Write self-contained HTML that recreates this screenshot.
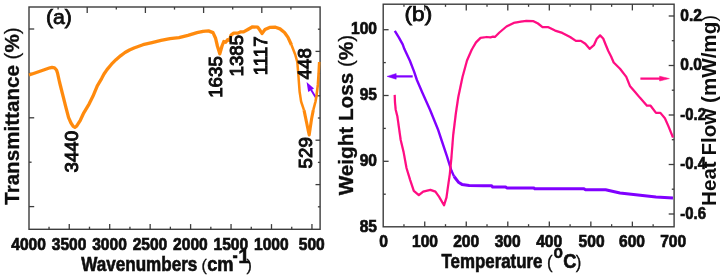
<!DOCTYPE html>
<html><head><meta charset="utf-8"><title>chart</title>
<style>
html,body{margin:0;padding:0;background:#fff;}
svg{display:block;font-family:"Liberation Sans", sans-serif;fill:#0a0a0a;}
.p{font-weight:normal;stroke-width:0.25;}
</style></head>
<body>
<svg width="723" height="279" viewBox="0 0 723 279">
<defs><filter id="soft" x="0" y="0" width="723" height="279" filterUnits="userSpaceOnUse"><feGaussianBlur stdDeviation="0.38"/></filter><filter id="soft2" x="0" y="0" width="723" height="279" filterUnits="userSpaceOnUse"><feGaussianBlur stdDeviation="0.22"/></filter></defs>
<rect x="0" y="0" width="723" height="279" fill="#ffffff"/>
<g filter="url(#soft)">
<rect x="29.0" y="7.0" width="291.10" height="222.30" fill="none" stroke="#3c3c3c" stroke-width="1.4"/>
<line x1="69.25" y1="229.30" x2="69.25" y2="224.10" stroke="#3c3c3c" stroke-width="1.3"/>
<line x1="109.70" y1="229.30" x2="109.70" y2="224.10" stroke="#3c3c3c" stroke-width="1.3"/>
<line x1="150.15" y1="229.30" x2="150.15" y2="224.10" stroke="#3c3c3c" stroke-width="1.3"/>
<line x1="190.60" y1="229.30" x2="190.60" y2="224.10" stroke="#3c3c3c" stroke-width="1.3"/>
<line x1="231.05" y1="229.30" x2="231.05" y2="224.10" stroke="#3c3c3c" stroke-width="1.3"/>
<line x1="271.50" y1="229.30" x2="271.50" y2="224.10" stroke="#3c3c3c" stroke-width="1.3"/>
<line x1="311.95" y1="229.30" x2="311.95" y2="224.10" stroke="#3c3c3c" stroke-width="1.3"/>
<line x1="49.03" y1="229.30" x2="49.03" y2="226.70" stroke="#3c3c3c" stroke-width="1.3"/>
<line x1="89.48" y1="229.30" x2="89.48" y2="226.70" stroke="#3c3c3c" stroke-width="1.3"/>
<line x1="129.93" y1="229.30" x2="129.93" y2="226.70" stroke="#3c3c3c" stroke-width="1.3"/>
<line x1="170.38" y1="229.30" x2="170.38" y2="226.70" stroke="#3c3c3c" stroke-width="1.3"/>
<line x1="210.83" y1="229.30" x2="210.83" y2="226.70" stroke="#3c3c3c" stroke-width="1.3"/>
<line x1="251.28" y1="229.30" x2="251.28" y2="226.70" stroke="#3c3c3c" stroke-width="1.3"/>
<line x1="291.73" y1="229.30" x2="291.73" y2="226.70" stroke="#3c3c3c" stroke-width="1.3"/>
<line x1="58.10" y1="7.00" x2="58.10" y2="9.60" stroke="#3c3c3c" stroke-width="1.3"/>
<line x1="87.20" y1="7.00" x2="87.20" y2="13.00" stroke="#3c3c3c" stroke-width="1.3"/>
<line x1="116.30" y1="7.00" x2="116.30" y2="9.60" stroke="#3c3c3c" stroke-width="1.3"/>
<line x1="145.40" y1="7.00" x2="145.40" y2="13.00" stroke="#3c3c3c" stroke-width="1.3"/>
<line x1="174.50" y1="7.00" x2="174.50" y2="9.60" stroke="#3c3c3c" stroke-width="1.3"/>
<line x1="203.60" y1="7.00" x2="203.60" y2="13.00" stroke="#3c3c3c" stroke-width="1.3"/>
<line x1="232.70" y1="7.00" x2="232.70" y2="9.60" stroke="#3c3c3c" stroke-width="1.3"/>
<line x1="261.80" y1="7.00" x2="261.80" y2="13.00" stroke="#3c3c3c" stroke-width="1.3"/>
<line x1="290.90" y1="7.00" x2="290.90" y2="9.60" stroke="#3c3c3c" stroke-width="1.3"/>
<line x1="29.00" y1="29.00" x2="34.20" y2="29.00" stroke="#3c3c3c" stroke-width="1.3"/>
<line x1="29.00" y1="117.80" x2="34.20" y2="117.80" stroke="#3c3c3c" stroke-width="1.3"/>
<line x1="29.00" y1="206.60" x2="34.20" y2="206.60" stroke="#3c3c3c" stroke-width="1.3"/>
<line x1="29.00" y1="73.40" x2="31.60" y2="73.40" stroke="#3c3c3c" stroke-width="1.3"/>
<line x1="29.00" y1="162.20" x2="31.60" y2="162.20" stroke="#3c3c3c" stroke-width="1.3"/>
<line x1="320.10" y1="51.40" x2="315.50" y2="51.40" stroke="#3c3c3c" stroke-width="1.3"/>
<line x1="320.10" y1="95.80" x2="315.50" y2="95.80" stroke="#3c3c3c" stroke-width="1.3"/>
<line x1="320.10" y1="140.20" x2="315.50" y2="140.20" stroke="#3c3c3c" stroke-width="1.3"/>
<line x1="320.10" y1="184.60" x2="315.50" y2="184.60" stroke="#3c3c3c" stroke-width="1.3"/>
<line x1="320.10" y1="29.20" x2="317.90" y2="29.20" stroke="#3c3c3c" stroke-width="1.3"/>
<line x1="320.10" y1="73.60" x2="317.90" y2="73.60" stroke="#3c3c3c" stroke-width="1.3"/>
<line x1="320.10" y1="118.00" x2="317.90" y2="118.00" stroke="#3c3c3c" stroke-width="1.3"/>
<line x1="320.10" y1="162.40" x2="317.90" y2="162.40" stroke="#3c3c3c" stroke-width="1.3"/>
<line x1="320.10" y1="206.80" x2="317.90" y2="206.80" stroke="#3c3c3c" stroke-width="1.3"/>
<line x1="315.8" y1="97.6" x2="311.2" y2="90" stroke="#8000FF" stroke-width="1.9"/>
<polygon points="306.6,81.9 314.0,88.6 308.2,92.0" fill="#8000FF"/>
<rect x="383.2" y="4.2" width="290.90" height="222.60" fill="none" stroke="#3c3c3c" stroke-width="1.4"/>
<line x1="424.73" y1="226.80" x2="424.73" y2="221.60" stroke="#3c3c3c" stroke-width="1.3"/>
<line x1="424.73" y1="4.20" x2="424.73" y2="10.40" stroke="#3c3c3c" stroke-width="1.3"/>
<line x1="466.26" y1="226.80" x2="466.26" y2="221.60" stroke="#3c3c3c" stroke-width="1.3"/>
<line x1="466.26" y1="4.20" x2="466.26" y2="10.40" stroke="#3c3c3c" stroke-width="1.3"/>
<line x1="507.79" y1="226.80" x2="507.79" y2="221.60" stroke="#3c3c3c" stroke-width="1.3"/>
<line x1="507.79" y1="4.20" x2="507.79" y2="10.40" stroke="#3c3c3c" stroke-width="1.3"/>
<line x1="549.32" y1="226.80" x2="549.32" y2="221.60" stroke="#3c3c3c" stroke-width="1.3"/>
<line x1="549.32" y1="4.20" x2="549.32" y2="10.40" stroke="#3c3c3c" stroke-width="1.3"/>
<line x1="590.85" y1="226.80" x2="590.85" y2="221.60" stroke="#3c3c3c" stroke-width="1.3"/>
<line x1="590.85" y1="4.20" x2="590.85" y2="10.40" stroke="#3c3c3c" stroke-width="1.3"/>
<line x1="632.38" y1="226.80" x2="632.38" y2="221.60" stroke="#3c3c3c" stroke-width="1.3"/>
<line x1="632.38" y1="4.20" x2="632.38" y2="10.40" stroke="#3c3c3c" stroke-width="1.3"/>
<line x1="403.96" y1="226.80" x2="403.96" y2="224.20" stroke="#3c3c3c" stroke-width="1.3"/>
<line x1="403.96" y1="4.20" x2="403.96" y2="6.80" stroke="#3c3c3c" stroke-width="1.3"/>
<line x1="445.50" y1="226.80" x2="445.50" y2="224.20" stroke="#3c3c3c" stroke-width="1.3"/>
<line x1="445.50" y1="4.20" x2="445.50" y2="6.80" stroke="#3c3c3c" stroke-width="1.3"/>
<line x1="487.02" y1="226.80" x2="487.02" y2="224.20" stroke="#3c3c3c" stroke-width="1.3"/>
<line x1="487.02" y1="4.20" x2="487.02" y2="6.80" stroke="#3c3c3c" stroke-width="1.3"/>
<line x1="528.56" y1="226.80" x2="528.56" y2="224.20" stroke="#3c3c3c" stroke-width="1.3"/>
<line x1="528.56" y1="4.20" x2="528.56" y2="6.80" stroke="#3c3c3c" stroke-width="1.3"/>
<line x1="570.09" y1="226.80" x2="570.09" y2="224.20" stroke="#3c3c3c" stroke-width="1.3"/>
<line x1="570.09" y1="4.20" x2="570.09" y2="6.80" stroke="#3c3c3c" stroke-width="1.3"/>
<line x1="611.62" y1="226.80" x2="611.62" y2="224.20" stroke="#3c3c3c" stroke-width="1.3"/>
<line x1="611.62" y1="4.20" x2="611.62" y2="6.80" stroke="#3c3c3c" stroke-width="1.3"/>
<line x1="653.14" y1="226.80" x2="653.14" y2="224.20" stroke="#3c3c3c" stroke-width="1.3"/>
<line x1="653.14" y1="4.20" x2="653.14" y2="6.80" stroke="#3c3c3c" stroke-width="1.3"/>
<line x1="383.20" y1="29.70" x2="388.60" y2="29.70" stroke="#3c3c3c" stroke-width="1.3"/>
<line x1="383.20" y1="95.50" x2="388.60" y2="95.50" stroke="#3c3c3c" stroke-width="1.3"/>
<line x1="383.20" y1="161.30" x2="388.60" y2="161.30" stroke="#3c3c3c" stroke-width="1.3"/>
<line x1="383.20" y1="62.60" x2="385.80" y2="62.60" stroke="#3c3c3c" stroke-width="1.3"/>
<line x1="383.20" y1="128.40" x2="385.80" y2="128.40" stroke="#3c3c3c" stroke-width="1.3"/>
<line x1="383.20" y1="194.20" x2="385.80" y2="194.20" stroke="#3c3c3c" stroke-width="1.3"/>
<line x1="674.10" y1="16.00" x2="668.70" y2="16.00" stroke="#3c3c3c" stroke-width="1.3"/>
<line x1="674.10" y1="65.50" x2="668.70" y2="65.50" stroke="#3c3c3c" stroke-width="1.3"/>
<line x1="674.10" y1="115.00" x2="668.70" y2="115.00" stroke="#3c3c3c" stroke-width="1.3"/>
<line x1="674.10" y1="164.50" x2="668.70" y2="164.50" stroke="#3c3c3c" stroke-width="1.3"/>
<line x1="674.10" y1="214.00" x2="668.70" y2="214.00" stroke="#3c3c3c" stroke-width="1.3"/>
<line x1="674.10" y1="40.70" x2="671.80" y2="40.70" stroke="#3c3c3c" stroke-width="1.3"/>
<line x1="674.10" y1="90.20" x2="671.80" y2="90.20" stroke="#3c3c3c" stroke-width="1.3"/>
<line x1="674.10" y1="139.70" x2="671.80" y2="139.70" stroke="#3c3c3c" stroke-width="1.3"/>
<line x1="674.10" y1="189.20" x2="671.80" y2="189.20" stroke="#3c3c3c" stroke-width="1.3"/>
<line x1="412.7" y1="76.4" x2="395" y2="76.4" stroke="#8000FF" stroke-width="2.2"/>
<polygon points="387.0,76.4 396.2,73.6 396.2,79.2" fill="#8000FF" stroke="#8000FF" stroke-width="0.5" stroke-linejoin="round"/>
<line x1="640.4" y1="78.6" x2="661" y2="78.6" stroke="#FF0A82" stroke-width="2.2"/>
<polygon points="669.4,78.6 659.6,76.2 659.6,81.0" fill="#FF0A82" stroke="#FF0A82" stroke-width="0.5" stroke-linejoin="round"/>
</g>
<g filter="url(#soft2)">
<path d="M29.0,75.0 L35.0,73.0 L40.0,71.3 L45.0,69.5 L50.0,67.8 L52.0,67.4 L54.5,67.8 L56.5,70.0 L57.5,73.0 L58.5,77.5 L59.5,82.0 L61.0,88.0 L63.2,96.6 L65.9,107.4 L68.6,117.6 L71.0,123.0 L73.2,126.3 L74.9,127.3 L76.6,126.2 L80.3,120.3 L83.8,112.8 L89.2,103.8 L92.8,96.6 L97.3,85.8 L101.6,78.6 L104.0,74.0 L107.0,69.6 L111.5,64.2 L116.0,59.7 L120.5,55.8 L125.0,52.5 L129.5,50.0 L134.0,48.0 L143.0,44.7 L152.0,42.6 L161.0,40.4 L170.0,38.6 L179.0,37.6 L188.0,35.4 L197.0,32.7 L203.0,31.3 L208.5,30.9 L213.0,32.6 L215.6,38.3 L217.4,46.0 L219.8,53.8 L222.0,46.0 L223.8,41.5 L225.7,42.3 L227.6,39.7 L229.5,40.5 L231.0,35.2 L233.7,33.2 L238.2,33.0 L240.9,31.8 L243.6,31.9 L247.4,29.7 L252.6,26.8 L257.6,27.1 L260.0,30.3 L262.0,33.5 L265.0,29.6 L269.6,27.4 L275.5,27.2 L280.0,28.9 L284.5,32.5 L288.0,37.4 L291.5,45.0" fill="none" stroke="#FF8A0C" stroke-width="3.3" stroke-linejoin="round" stroke-linecap="butt" />
<path d="M291.5,45.0 L295.2,54.5 L297.3,62.0 L298.3,73.8 L298.8,81.0 L299.6,91.6 L301.1,101.5 L304.0,110.1" fill="none" stroke="#FF8A0C" stroke-width="2.5" stroke-linejoin="round" stroke-linecap="butt" />
<path d="M304.0,110.1 L306.4,121.6 L308.3,130.9 L309.2,135.0 L310.1,128.8 L311.6,118.7 L313.3,110.0" fill="none" stroke="#FF8A0C" stroke-width="3.1" stroke-linejoin="round" stroke-linecap="butt" />
<path d="M313.3,110.0 L315.5,101.5 L316.5,95.9 L317.9,84.4 L318.8,70.0 L319.2,62.0" fill="none" stroke="#FF8A0C" stroke-width="2.6" stroke-linejoin="round" stroke-linecap="butt" />
<path d="M394.8,30.8 L398.8,37.3 L402.7,44.3 L404.4,49.1 L409.9,60.8 L414.1,71.6 L416.9,80.0 L422.5,92.9 L430.0,109.7 L437.9,129.2 L441.5,140.0 L446.9,156.2 L451.4,170.6 L454.1,176.5" fill="none" stroke="#8000FF" stroke-width="2.4" stroke-linejoin="round" stroke-linecap="butt" />
<path d="M454.1,176.5 L458.4,182.2 L462.0,184.4 L469.2,185.5 L483.6,185.7 L491.6,185.7 L492.6,187.0 L505.6,187.0 L506.8,187.9 L533.8,187.9 L534.8,188.8 L584.2,188.8 L585.2,189.7 L605.6,189.7 L620.0,193.0 L638.0,195.1 L656.0,196.9 L673.0,198.0" fill="none" stroke="#8000FF" stroke-width="3.0" stroke-linejoin="round" stroke-linecap="butt" />
<path d="M394.7,94.9 L395.0,102.7 L395.7,109.7 L397.4,116.6 L400.7,140.0 L403.7,152.6 L406.5,168.0 L410.2,180.1 L413.8,190.9 L418.8,195.2 L423.2,191.6 L430.4,189.9 L435.4,191.6 L439.0,196.6 L444.0,205.3 L446.5,197.3 L448.3,184.4 L449.8,174.3 L451.4,158.0 L453.2,135.0 L455.9,113.0 L458.3,97.0 L462.5,77.0 L467.0,60.5 L471.7,49.8 L476.0,42.4 L480.5,37.9 L486.8,37.0 L490.4,37.3 L493.1,36.6 L494.9,37.0 L499.4,32.5 L506.5,26.5 L513.7,22.9 L520.9,21.7 L526.3,20.8 L533.5,21.2 L538.0,23.5 L542.5,27.1 L547.9,27.1 L555.1,30.6 L562.3,32.9 L570.1,37.0 L575.9,40.9 L580.9,40.9 L585.3,43.8 L589.6,48.8 L593.9,45.2 L596.8,38.7 L600.1,35.4 L603.2,38.5 L605.8,45.0 L608.3,51.0 L611.0,56.2 L613.7,62.5 L620.0,68.8 L626.3,76.9 L629.9,85.9 L635.3,92.2 L639.8,97.6 L647.0,105.7 L650.6,105.7 L656.0,112.9 L660.4,112.9 L664.9,118.3 L668.5,126.4 L673.0,137.5" fill="none" stroke="#FF0A82" stroke-width="2.25" stroke-linejoin="round" stroke-linecap="butt" />
</g>
<g filter="url(#soft)">
<text x="45.90" y="23.80" font-size="19.5" font-weight="normal" text-anchor="start" textLength="26.00" lengthAdjust="spacingAndGlyphs" stroke="#0a0a0a" stroke-width="0.75">(a)</text>
<text x="28.60" y="250.10" font-size="17" font-weight="bold" text-anchor="middle" textLength="34.60" lengthAdjust="spacingAndGlyphs" stroke="#0a0a0a" stroke-width="0.7">4000</text>
<text x="69.05" y="250.10" font-size="17" font-weight="bold" text-anchor="middle" textLength="34.60" lengthAdjust="spacingAndGlyphs" stroke="#0a0a0a" stroke-width="0.7">3500</text>
<text x="109.50" y="250.10" font-size="17" font-weight="bold" text-anchor="middle" textLength="34.60" lengthAdjust="spacingAndGlyphs" stroke="#0a0a0a" stroke-width="0.7">3000</text>
<text x="149.95" y="250.10" font-size="17" font-weight="bold" text-anchor="middle" textLength="34.60" lengthAdjust="spacingAndGlyphs" stroke="#0a0a0a" stroke-width="0.7">2500</text>
<text x="190.40" y="250.10" font-size="17" font-weight="bold" text-anchor="middle" textLength="34.60" lengthAdjust="spacingAndGlyphs" stroke="#0a0a0a" stroke-width="0.7">2000</text>
<text x="230.85" y="250.10" font-size="17" font-weight="bold" text-anchor="middle" textLength="34.60" lengthAdjust="spacingAndGlyphs" stroke="#0a0a0a" stroke-width="0.7">1500</text>
<text x="271.30" y="250.10" font-size="17" font-weight="bold" text-anchor="middle" textLength="34.60" lengthAdjust="spacingAndGlyphs" stroke="#0a0a0a" stroke-width="0.7">1000</text>
<text x="311.75" y="250.10" font-size="17" font-weight="bold" text-anchor="middle" textLength="26.00" lengthAdjust="spacingAndGlyphs" stroke="#0a0a0a" stroke-width="0.7">500</text>
<text x="81.20" y="270.90" font-size="19.5" font-weight="bold" text-anchor="start" textLength="116.20" lengthAdjust="spacingAndGlyphs" stroke="#0a0a0a" stroke-width="0.6">Wavenumbers</text>
<text x="201.60" y="270.90" font-size="16" font-weight="normal" text-anchor="start" textLength="5.30" lengthAdjust="spacingAndGlyphs" stroke="#0a0a0a" stroke-width="0.3">(</text>
<text x="207.20" y="270.90" font-size="19.5" font-weight="bold" text-anchor="start" textLength="26.40" lengthAdjust="spacingAndGlyphs" stroke="#0a0a0a" stroke-width="0.6">cm</text>
<text x="232.60" y="262.40" font-size="19.5" font-weight="bold" text-anchor="start" textLength="5.20" lengthAdjust="spacingAndGlyphs" stroke="#0a0a0a" stroke-width="0.45">-</text>
<text x="238.20" y="262.60" font-size="19.5" font-weight="bold" text-anchor="start" textLength="11.60" lengthAdjust="spacingAndGlyphs" stroke="#0a0a0a" stroke-width="0.45">1</text>
<text x="246.60" y="270.90" font-size="16" font-weight="normal" text-anchor="start" textLength="5.30" lengthAdjust="spacingAndGlyphs" stroke="#0a0a0a" stroke-width="0.3">)</text>
<text x="0" y="0" transform="translate(18.50,204.80) rotate(-90)" font-size="20" font-weight="bold" text-anchor="start" textLength="177.50" lengthAdjust="spacingAndGlyphs" stroke="#0a0a0a" stroke-width="0.3">Transmittance <tspan class="p">(</tspan>%<tspan class="p">)</tspan></text>
<text x="0" y="0" transform="translate(78.30,172.50) rotate(-90)" font-size="18.7" font-weight="normal" text-anchor="start" stroke="#0a0a0a" stroke-width="1.0">3440</text>
<text x="0" y="0" transform="translate(221.80,97.80) rotate(-90)" font-size="18.7" font-weight="normal" text-anchor="start" stroke="#0a0a0a" stroke-width="1.0">1635</text>
<text x="0" y="0" transform="translate(243.00,76.50) rotate(-90)" font-size="18.7" font-weight="normal" text-anchor="start" stroke="#0a0a0a" stroke-width="1.0">1385</text>
<text x="0" y="0" transform="translate(266.80,75.20) rotate(-90)" font-size="18.7" font-weight="normal" text-anchor="start" stroke="#0a0a0a" stroke-width="1.0">1117</text>
<text x="0" y="0" transform="translate(310.60,79.40) rotate(-90)" font-size="18.7" font-weight="normal" text-anchor="start" stroke="#0a0a0a" stroke-width="1.0">448</text>
<text x="0" y="0" transform="translate(312.40,168.40) rotate(-90)" font-size="18.7" font-weight="normal" text-anchor="start" stroke="#0a0a0a" stroke-width="1.0">529</text>
<text x="404.60" y="20.60" font-size="20" font-weight="normal" text-anchor="start" textLength="27.60" lengthAdjust="spacingAndGlyphs" stroke="#0a0a0a" stroke-width="0.75">(b)</text>
<text x="383.60" y="247.40" font-size="17" font-weight="bold" text-anchor="middle" textLength="8.70" lengthAdjust="spacingAndGlyphs" stroke="#0a0a0a" stroke-width="0.7">0</text>
<text x="425.05" y="247.40" font-size="17" font-weight="bold" text-anchor="middle" textLength="26.00" lengthAdjust="spacingAndGlyphs" stroke="#0a0a0a" stroke-width="0.7">100</text>
<text x="466.20" y="247.40" font-size="17" font-weight="bold" text-anchor="middle" textLength="26.00" lengthAdjust="spacingAndGlyphs" stroke="#0a0a0a" stroke-width="0.7">200</text>
<text x="507.70" y="247.40" font-size="17" font-weight="bold" text-anchor="middle" textLength="26.00" lengthAdjust="spacingAndGlyphs" stroke="#0a0a0a" stroke-width="0.7">300</text>
<text x="549.20" y="247.40" font-size="17" font-weight="bold" text-anchor="middle" textLength="26.00" lengthAdjust="spacingAndGlyphs" stroke="#0a0a0a" stroke-width="0.7">400</text>
<text x="591.60" y="247.40" font-size="17" font-weight="bold" text-anchor="middle" textLength="26.00" lengthAdjust="spacingAndGlyphs" stroke="#0a0a0a" stroke-width="0.7">500</text>
<text x="632.00" y="247.40" font-size="17" font-weight="bold" text-anchor="middle" textLength="26.00" lengthAdjust="spacingAndGlyphs" stroke="#0a0a0a" stroke-width="0.7">600</text>
<text x="673.20" y="247.40" font-size="17" font-weight="bold" text-anchor="middle" textLength="26.00" lengthAdjust="spacingAndGlyphs" stroke="#0a0a0a" stroke-width="0.7">700</text>
<text x="441.50" y="268.10" font-size="19.5" font-weight="bold" text-anchor="start" textLength="101.00" lengthAdjust="spacingAndGlyphs" stroke="#0a0a0a" stroke-width="0.6">Temperature</text>
<text x="547.00" y="268.30" font-size="18.6" font-weight="normal" text-anchor="start" textLength="5.60" lengthAdjust="spacingAndGlyphs" stroke="#0a0a0a" stroke-width="0.3">(</text>
<text x="553.40" y="258.20" font-size="18.5" font-weight="bold" text-anchor="start" textLength="9.40" lengthAdjust="spacingAndGlyphs" stroke="#0a0a0a" stroke-width="0.5">o</text>
<text x="563.20" y="268.10" font-size="19.5" font-weight="bold" text-anchor="start" textLength="13.20" lengthAdjust="spacingAndGlyphs" stroke="#0a0a0a" stroke-width="0.6">C</text>
<text x="575.80" y="268.30" font-size="18.6" font-weight="normal" text-anchor="start" textLength="5.60" lengthAdjust="spacingAndGlyphs" stroke="#0a0a0a" stroke-width="0.3">)</text>
<text x="377.00" y="34.00" font-size="17" font-weight="bold" text-anchor="end" textLength="26.00" lengthAdjust="spacingAndGlyphs" stroke="#0a0a0a" stroke-width="0.7">100</text>
<text x="377.00" y="99.80" font-size="17" font-weight="bold" text-anchor="end" textLength="17.30" lengthAdjust="spacingAndGlyphs" stroke="#0a0a0a" stroke-width="0.7">95</text>
<text x="377.00" y="165.50" font-size="17" font-weight="bold" text-anchor="end" textLength="17.30" lengthAdjust="spacingAndGlyphs" stroke="#0a0a0a" stroke-width="0.7">90</text>
<text x="377.00" y="231.50" font-size="17" font-weight="bold" text-anchor="end" textLength="17.30" lengthAdjust="spacingAndGlyphs" stroke="#0a0a0a" stroke-width="0.7">85</text>
<text x="680.30" y="20.80" font-size="17" font-weight="bold" text-anchor="start" textLength="21.60" lengthAdjust="spacingAndGlyphs" stroke="#0a0a0a" stroke-width="0.7">0.2</text>
<text x="680.30" y="70.30" font-size="17" font-weight="bold" text-anchor="start" textLength="21.60" lengthAdjust="spacingAndGlyphs" stroke="#0a0a0a" stroke-width="0.7">0.0</text>
<text x="680.30" y="119.80" font-size="17" font-weight="bold" text-anchor="start" textLength="25.60" lengthAdjust="spacingAndGlyphs" stroke="#0a0a0a" stroke-width="0.7">-0.2</text>
<text x="680.30" y="169.30" font-size="17" font-weight="bold" text-anchor="start" textLength="25.60" lengthAdjust="spacingAndGlyphs" stroke="#0a0a0a" stroke-width="0.7">-0.4</text>
<text x="680.30" y="218.80" font-size="17" font-weight="bold" text-anchor="start" textLength="25.60" lengthAdjust="spacingAndGlyphs" stroke="#0a0a0a" stroke-width="0.7">-0.6</text>
<text x="0" y="0" transform="translate(353.40,195.30) rotate(-90)" font-size="20" font-weight="bold" text-anchor="start" textLength="160.50" lengthAdjust="spacingAndGlyphs" stroke="#0a0a0a" stroke-width="0.3">Weight Loss <tspan class="p">(</tspan>%<tspan class="p">)</tspan></text>
<text x="0" y="0" transform="translate(715.70,205.90) rotate(-90)" font-size="20" font-weight="bold" text-anchor="start" textLength="191.00" lengthAdjust="spacingAndGlyphs">Heat Flow (mW/mg<tspan class="p">)</tspan></text>
</g>
</svg>
</body></html>
